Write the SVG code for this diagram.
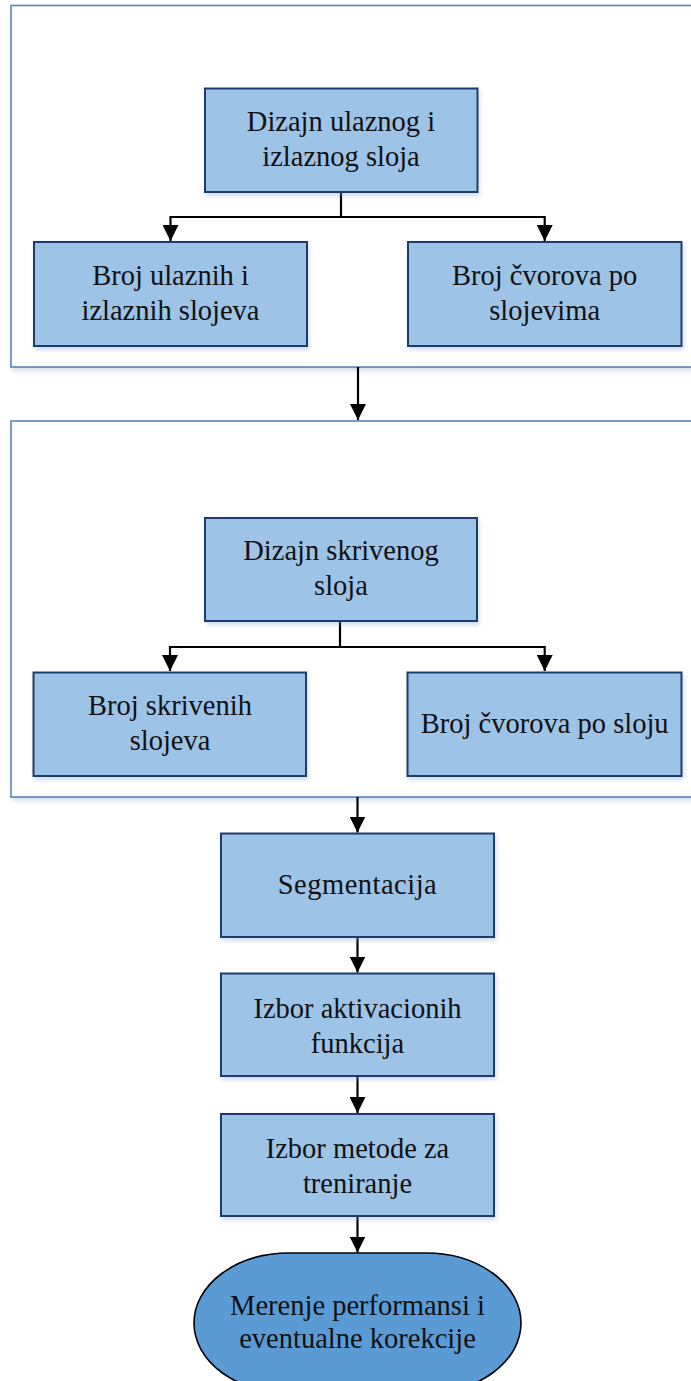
<svg xmlns="http://www.w3.org/2000/svg" width="691" height="1381" viewBox="0 0 691 1381">
  <defs>
    <filter id="shadow" x="-10%" y="-10%" width="120%" height="130%">
      <feDropShadow dx="1.5" dy="3" stdDeviation="2" flood-color="#7f9fc4" flood-opacity="0.35"/>
    </filter>
    <marker id="arrow" viewBox="0 0 16 16" refX="16" refY="8" markerWidth="16" markerHeight="16" markerUnits="userSpaceOnUse" orient="auto">
      <path d="M0,0 L16,8 L0,16 Z" fill="#000"/>
    </marker>
    <style>
      .frame { fill: #ffffff; stroke: #5b84b4; stroke-width: 1.6; }
      .box { fill: #9dc3e6; stroke: #1f3a6e; stroke-width: 2; }
      .term { fill: #5b9bd5; stroke: #000; stroke-width: 1.6; }
      .lbl { font-family: "Liberation Serif", "Times New Roman", serif; font-size: 28.5px; fill: #111; text-anchor: middle; }
      .conn { fill: none; stroke: #000; stroke-width: 2.2; }
    </style>
  </defs>

  <!-- input / output layer design section -->
  <g id="frame-io">
    <rect class="frame" x="11" y="5.5" width="692" height="361.5" filter="url(#shadow)"/>
  </g>
  <!-- hidden layer design section -->
  <g id="frame-hidden">
    <rect class="frame" x="11" y="421" width="692" height="376" filter="url(#shadow)"/>
  </g>

  <g id="connectors">
    <path class="conn" d="M341,192 V217 H170.5 V241" marker-end="url(#arrow)"/>
    <path class="conn" d="M341,217 H544.7 V241" marker-end="url(#arrow)"/>
    <path class="conn" d="M358,367 V420" marker-end="url(#arrow)"/>
    <path class="conn" d="M340,621 V647 H170 V671" marker-end="url(#arrow)"/>
    <path class="conn" d="M340,647 H544.7 V671" marker-end="url(#arrow)"/>
    <path class="conn" d="M357.5,797 V832.5" marker-end="url(#arrow)"/>
    <path class="conn" d="M357.5,937 V972.5" marker-end="url(#arrow)"/>
    <path class="conn" d="M357.5,1076 V1113" marker-end="url(#arrow)"/>
    <path class="conn" d="M357.5,1216 V1252.5" marker-end="url(#arrow)"/>
  </g>

  <g id="n-dizajn-io">
    <rect class="box" x="205" y="88.5" width="272.5" height="103.5" filter="url(#shadow)"/>
    <text class="lbl" x="341" y="131">Dizajn ulaznog i</text>
    <text class="lbl" x="341" y="166">izlaznog sloja</text>
  </g>
  <g id="n-broj-io">
    <rect class="box" x="34" y="242" width="273" height="104" filter="url(#shadow)"/>
    <text class="lbl" x="170.5" y="285">Broj ulaznih i</text>
    <text class="lbl" x="170.5" y="320">izlaznih slojeva</text>
  </g>
  <g id="n-cvorovi-io">
    <rect class="box" x="408" y="242" width="273.5" height="104" filter="url(#shadow)"/>
    <text class="lbl" x="544.7" y="285">Broj čvorova po</text>
    <text class="lbl" x="544.7" y="320">slojevima</text>
  </g>

  <g id="n-dizajn-hidden">
    <rect class="box" x="205" y="518" width="272" height="103" filter="url(#shadow)"/>
    <text class="lbl" x="341" y="560">Dizajn skrivenog</text>
    <text class="lbl" x="341" y="595">sloja</text>
  </g>
  <g id="n-broj-hidden">
    <rect class="box" x="33.5" y="672.5" width="272.5" height="103.5" filter="url(#shadow)"/>
    <text class="lbl" x="170" y="715">Broj skrivenih</text>
    <text class="lbl" x="170" y="750">slojeva</text>
  </g>
  <g id="n-cvorovi-hidden">
    <rect class="box" x="407.5" y="672.5" width="274" height="103.5" filter="url(#shadow)"/>
    <text class="lbl" x="544.7" y="733">Broj čvorova po sloju</text>
  </g>

  <g id="n-segmentacija">
    <rect class="box" x="221" y="833.5" width="273" height="103.5" filter="url(#shadow)"/>
    <text class="lbl" x="357.5" y="894" letter-spacing="0.5">Segmentacija</text>
  </g>
  <g id="n-aktivacija">
    <rect class="box" x="221" y="973.5" width="273" height="102.5" filter="url(#shadow)"/>
    <text class="lbl" x="357.5" y="1017.5">Izbor aktivacionih</text>
    <text class="lbl" x="357.5" y="1052.5">funkcija</text>
  </g>
  <g id="n-trening">
    <rect class="box" x="221" y="1114" width="273" height="102" filter="url(#shadow)"/>
    <text class="lbl" x="357.5" y="1157.5">Izbor metode za</text>
    <text class="lbl" x="357.5" y="1192.5">treniranje</text>
  </g>

  <g id="n-merenje">
    <rect class="term" x="194" y="1253" width="327" height="140" rx="95" ry="70"/>
    <text class="lbl" x="357.5" y="1314.5">Merenje performansi i</text>
    <text class="lbl" x="357.5" y="1347.5">eventualne korekcije</text>
  </g>
</svg>
